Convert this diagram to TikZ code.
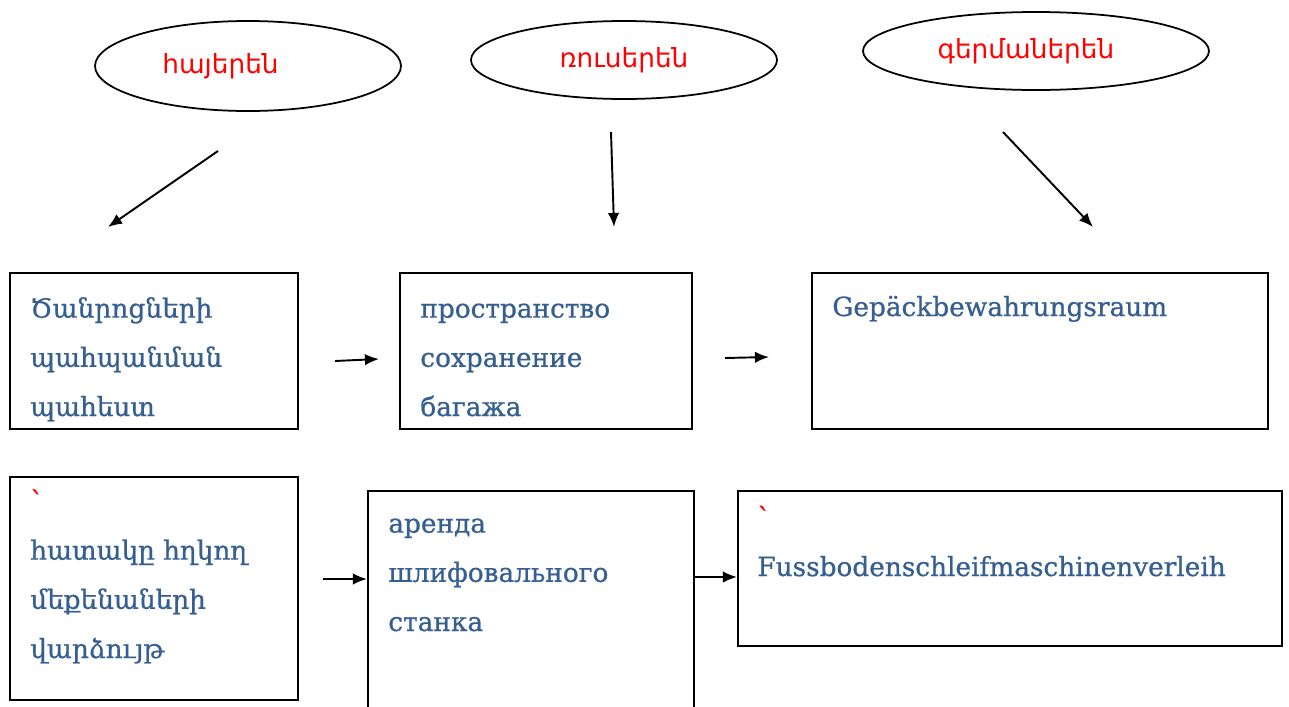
\documentclass[tikz,border=0pt]{standalone}
\usepackage{fontspec}
\usepackage{tikz}
\usetikzlibrary{shapes.geometric}
\usetikzlibrary{arrows.meta}
\newfontfamily\armsans{DejaVu Sans}
\newfontfamily\armserif[FakeBold=0.8]{DejaVu Serif}
\newfontfamily\boxserif[FakeBold=0.8]{DejaVu Serif}
\definecolor{termblue}{RGB}{54,95,145}
\tikzset{
  lang/.style={draw, ellipse, line width=1pt, inner sep=0pt, text=red,
    font=\armsans\fontsize{15}{18}\selectfont},
  box/.style 2 args={draw, line width=1pt, rectangle, anchor=north west,
    minimum width=#1*0.02cm, minimum height=#2*0.02cm},
  term/.style={anchor=base west, inner sep=0pt, align=left, text=termblue,
    font=\boxserif\fontsize{15}{28}\selectfont},
  arr/.style={-{Latex[length=8pt,width=6.5pt]}, line width=1.1pt},
}
\begin{document}
\begin{tikzpicture}[x=0.02cm, y=-0.02cm]
    \useasboundingbox (0,0) rectangle (1289,707);
    \clip (0,0) rectangle (1289,707);
    % languages
    \node[lang, minimum width=306*0.02cm, minimum height=90*0.02cm] (hy) at (248, 66) {հայերեն\hspace*{1.1cm}};
    \node[lang, minimum width=306*0.02cm, minimum height=78*0.02cm] (ru) at (624, 60) {ռուսերեն};
    \node[lang, minimum width=346*0.02cm, minimum height=78*0.02cm] (de) at (1036, 51) {գերմաներեն\hspace*{0.4cm}};
    % boxes
    \node[box={288}{156}] (b1) at (9, 272) {};
    \node[box={292}{156}] (b2) at (399, 272) {};
    \node[box={456}{156}] (b3) at (811, 272) {};
    \node[box={288}{223}] (b4) at (9, 476) {};
    \node[box={326}{240}] (b5) at (367, 490) {};
    \node[box={544}{155}] (b6) at (737, 490) {};
    % texts (base = last line)
    \node[term] (t1) at (30, 416) {\armserif Ծանրոցների\\\armserif պահպանման\\\armserif պահեստ};
    \node[term] (t2) at (420, 416) {пространство\\сохранение\\багажа};
    \node[term] (t3) at (832, 316) {Gepäckbewahrungsraum};
    \node[term] (t4) at (30, 658) {\armserif\color{red}՝\\\armserif հատակը հղկող\\\armserif մեքենաների\\\armserif վարձույթ};
    \node[term] (t5) at (388, 631) {аренда\\шлифовального\\станка};
    \node[term] (t6) at (757, 576) {{\armserif\color{red}՝}\\Fussbodenschleifmaschinenverleih};
    % arrows
    \coordinate (a1s) at (218, 151);
    \coordinate (a1e) at (108, 227);
    \coordinate (a2s) at (611, 132);
    \coordinate (a2e) at (614, 227);
    \coordinate (a3s) at (1003, 132);
    \coordinate (a3e) at (1093, 227);
    \coordinate (a4s) at (335, 361);
    \coordinate (a4e) at (379, 359);
    \coordinate (a5s) at (725, 358);
    \coordinate (a5e) at (769, 357);
    \coordinate (a6s) at (323, 579);
    \coordinate (a7) at (0, 577);
    \draw[arr] (a1s) -- (a1e);
    \draw[arr] (a2s) -- (a2e);
    \draw[arr] (a3s) -- (a3e);
    \draw[arr] (a4s) -- (a4e);
    \draw[arr] (a5s) -- (a5e);
    \draw[arr] (a6s) -- (a6s -| b5.west);
    \draw[arr] (b5.east |- a7) -- (b6.west |- a7);
\end{tikzpicture}
\end{document}
